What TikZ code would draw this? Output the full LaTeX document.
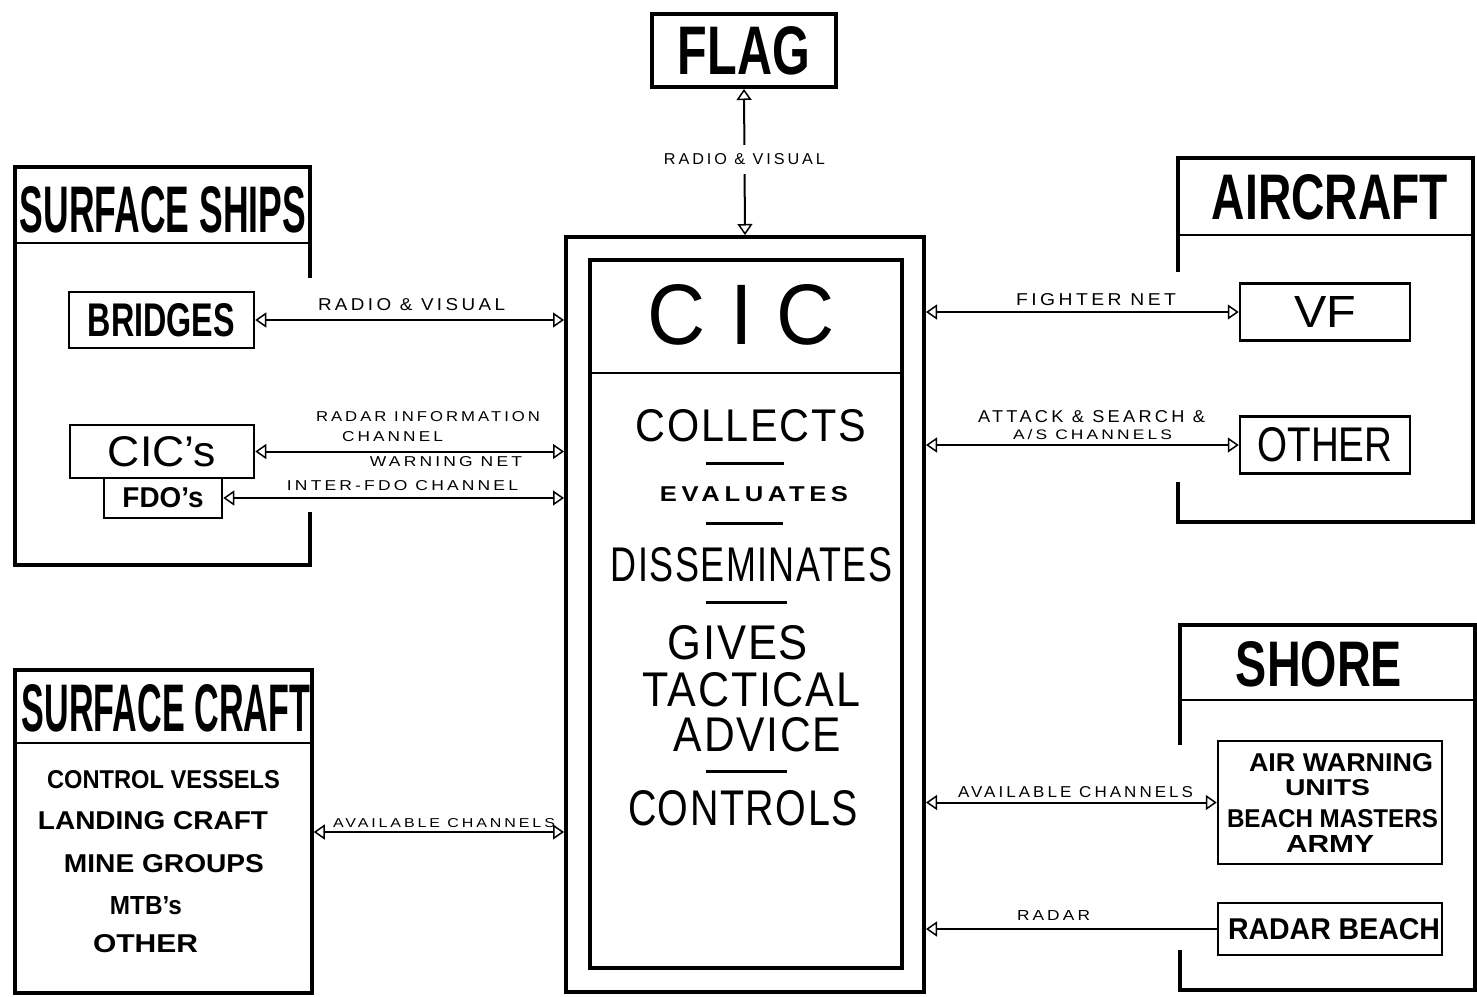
\documentclass[tikz,border=0pt]{standalone}
\usepackage{fontspec}
\usepackage{graphicx}
\setmainfont{Liberation Sans}
\usetikzlibrary{arrows.meta,calc}
\newcommand\fit[3]{\resizebox{#1pt}{#2pt}{#3}}
\newfontfamily\spacedfont[LetterSpace=18]{Liberation Sans}
\newfontfamily\cicfont[LetterSpace=4]{Liberation Sans}
\tikzset{
  frame/.style={line width=3.5pt, line join=miter},
  box/.style={draw, line width=2.5pt, inner sep=0pt},
  txt/.style={inner sep=0pt, outer sep=0pt},
  biarr/.style={line width=2pt, {Triangle[open,length=11pt,width=15pt,line width=1.5pt]}-{Triangle[open,length=11pt,width=15pt,line width=1.5pt]}},
  onearr/.style={line width=2.5pt, -{Triangle[open,length=11pt,width=15pt,line width=1.5pt]}},
  bar/.style={line width=3pt}
}
\begin{document}
\begin{tikzpicture}[x=1pt,y=-1pt]
\useasboundingbox[fill=white] (0,0) rectangle (1477,996);

% ---------- FLAG ----------
\node[box, line width=4pt, minimum width=184pt, minimum height=73pt] (flag) at (744,50.5)
  {\fit{132}{48}{\bfseries FLAG}};

% ---------- CIC ----------
\node[box, line width=4pt, minimum width=358pt, minimum height=755pt] (cicout) at (745,614.5) {};
\node[box, line width=3.5pt, minimum width=312pt, minimum height=708pt] (cicin) at (746,614) {};
\draw[line width=2pt] (cicin.west |- 0,373) -- (cicin.east |- 0,373);
\node[txt] (tcic) at (741.5,315) {\fit{187}{60}{\cicfont C\hspace{0.3em}I\hspace{0.3em}C}};
\node[txt] (tcol) at (751,426) {\fit{230}{32}{\cicfont COLLECTS}};
\node[txt] (teva) at (754,494.5) {\fit{188}{15}{\spacedfont\bfseries EVALUATES}};
\node[txt] (tdis) at (751.5,565) {\fit{281}{34}{\cicfont DISSEMINATES}};
\node[txt] (tgiv) at (738,643) {\fit{140}{34}{\cicfont GIVES}};
\node[txt] (ttac) at (751.5,690) {\fit{217}{34}{\cicfont TACTICAL}};
\node[txt] (tadv) at (757.5,735) {\fit{167}{34}{\cicfont ADVICE}};
\node[txt] (tcon) at (743,808.5) {\fit{230}{35}{\cicfont CONTROLS}};
\draw[bar] (706,463) -- (784,463);
\draw[bar] (706,523) -- (783,523);
\draw[bar] (706,602) -- (787,602);
\draw[bar] (706,771) -- (787,771);

% ---------- SURFACE SHIPS ----------
\draw[frame] (310,278) -- (310,167) -- (15,167) -- (15,565) -- (310,565) -- (310,512);
\draw[line width=2pt] (15,243) -- (310,243);
\node[txt] (tss) at (163,210) {\fit{286}{46}{\bfseries SURFACE SHIPS}};
\node[box, minimum width=185pt, minimum height=56pt] (bridges) at (161.5,320)
  {\fit{147}{33}{\bfseries BRIDGES}};
\node[box, minimum width=184pt, minimum height=53pt] (cics) at (162,451.5)
  {\fit{108}{30}{CIC's}};
\node[box, minimum width=118pt, minimum height=40pt] (fdos) at (163,498)
  {\fit{81}{20}{\bfseries FDO's}};

\draw[biarr] (bridges.east) -- (bridges.east -| cicout.west);
\draw[biarr] (cics.east) -- (cics.east -| cicout.west);
\draw[biarr] (fdos.east) -- (fdos.east -| cicout.west);
\node[txt] (l1) at (411.5,305) {\fit{187}{12}{\spacedfont RADIO \& VISUAL}};
\node[txt] (l2) at (428,417) {\fit{224}{10}{\spacedfont RADAR INFORMATION}};
\node[txt] (l3) at (392.5,437) {\fit{101}{10}{\spacedfont CHANNEL}};
\node[txt] (l4) at (446,462) {\fit{152}{10}{\spacedfont WARNING NET}};
\node[txt] (l5) at (402.5,486) {\fit{231}{10}{\spacedfont INTER-FDO CHANNEL}};

% ---------- SURFACE CRAFT ----------
\node[draw, line width=3.5pt, minimum width=297pt, minimum height=323pt, inner sep=0pt] (scraft) at (163.5,831.5) {};
\draw[line width=2pt] (scraft.west |- 0,743) -- (scraft.east |- 0,743);
\node[txt] (tsc) at (166,708.5) {\fit{288}{47}{\bfseries SURFACE CRAFT}};
\node[txt] (c1) at (163.5,780) {\fit{233}{18}{\bfseries CONTROL VESSELS}};
\node[txt] (c2) at (153,821) {\fit{230}{18}{\bfseries LANDING CRAFT}};
\node[txt] (c3) at (164,864) {\fit{200}{18}{\bfseries MINE GROUPS}};
\node[txt] (c4) at (146,906) {\fit{72}{18}{\bfseries MTB's}};
\node[txt] (c5) at (145.5,944) {\fit{105}{18}{\bfseries OTHER}};
\draw[biarr] (scraft.east |- 0,832) -- (cicout.west |- 0,832);
\node[txt] (l6) at (444,823.5) {\fit{222}{9}{\spacedfont AVAILABLE CHANNELS}};

% ---------- AIRCRAFT ----------
\draw[frame] (1178,272) -- (1178,158) -- (1473,158) -- (1473,522) -- (1178,522) -- (1178,482);
\draw[line width=2pt] (1178,235) -- (1473,235);
\node[txt] (tac) at (1330,197.5) {\fit{236}{45}{\bfseries AIRCRAFT}};
\node[box, minimum width=170pt, minimum height=57pt] (vf) at (1325,312)
  {\fit{62}{31}{VF}};
\node[box, minimum width=170pt, minimum height=57pt] (aother) at (1325,445)
  {\fit{135}{34}{OTHER}};
\draw[biarr] (vf.west -| cicout.east) -- (vf.west);
\draw[biarr] (aother.west -| cicout.east) -- (aother.west);
\node[txt] (l7) at (1096,300) {\fit{160}{12}{\spacedfont FIGHTER NET}};
\node[txt] (l8) at (1091.5,417) {\fit{227}{12}{\spacedfont ATTACK \& SEARCH \&}};
\node[txt] (l9) at (1092.5,434.5) {\fit{159}{10}{\spacedfont A/S CHANNELS}};

% ---------- SHORE ----------
\draw[frame] (1180,745) -- (1180,625) -- (1475,625) -- (1475,990) -- (1180,990) -- (1180,950);
\draw[line width=2pt] (1180,700) -- (1475,700);
\node[txt] (tsh) at (1319,664.5) {\fit{166}{45}{\bfseries SHORE}};
\node[box, minimum width=224pt, minimum height=123pt] (awu) at (1330,802.5) {};
\node[txt] (s1) at (1341,763) {\fit{184}{18}{\bfseries AIR WARNING}};
\node[txt] (s2) at (1327.5,787.5) {\fit{85}{16}{\bfseries UNITS}};
\node[txt] (s3) at (1332.5,818.5) {\fit{211}{18}{\bfseries BEACH MASTERS}};
\node[txt] (s4) at (1330,843.5) {\fit{88}{17}{\bfseries ARMY}};
\node[box, minimum width=224pt, minimum height=52pt] (rbeacon) at (1330,929) {};
\node[txt] (s5) at (1334,929.5) {\fit{212}{21}{\bfseries RADAR BEACH}};
\draw[biarr] (awu.west -| cicout.east) -- (awu.west);
\draw[onearr] (rbeacon.west) -- (rbeacon.west -| cicout.east);
\node[txt] (l10) at (1075.5,792.5) {\fit{235}{11}{\spacedfont AVAILABLE CHANNELS}};
\node[txt] (l11) at (1053.5,915) {\fit{73}{10}{\spacedfont RADAR}};

% ---------- FLAG connector ----------
\draw[biarr] (cicout.north) -- node[pos=0.52, fill=white, inner xsep=2pt, inner ysep=9pt] (l0)
  {\fit{161}{11}{\spacedfont RADIO \& VISUAL}} (flag.south);
\end{tikzpicture}
\end{document}
